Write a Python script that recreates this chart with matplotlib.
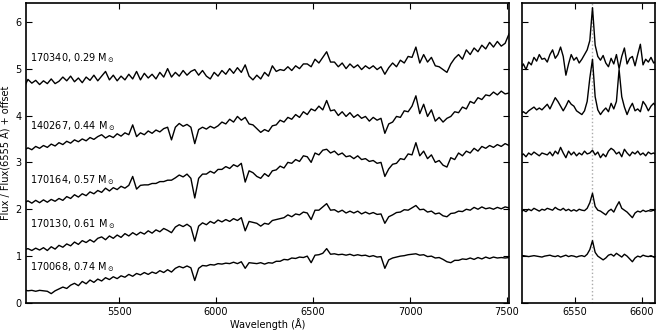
import numpy as np
import matplotlib
matplotlib.use("Agg")
import matplotlib.pyplot as plt

# ---------------- data ----------------
# Left panel: wavelength grid 5010..7510 step 20 A (126 points)
wave_full = np.arange(5010, 7511, 20)

flux_170340 = [
    4.60, 4.77, 4.69, 4.75, 4.66, 4.74, 4.68, 4.78, 4.68, 4.73,
    4.82, 4.74, 4.84, 4.72, 4.80, 4.70, 4.82, 4.75, 4.86, 4.74,
    4.84, 4.94, 4.76, 4.86, 4.74, 4.84, 4.76, 4.88, 4.78, 4.94,
    4.76, 4.90, 4.80, 4.88, 4.78, 4.92, 4.82, 5.00, 4.82, 4.92,
    4.84, 4.96, 4.86, 4.94, 4.98, 4.86, 4.96, 4.84, 4.78, 4.92,
    4.84, 4.96, 4.88, 5.00, 4.90, 5.02, 4.92, 5.08, 4.84, 4.76,
    4.86, 4.78, 4.92, 4.84, 5.06, 4.94, 4.98, 4.96, 5.04, 4.96,
    5.06, 5.00, 5.10, 5.10, 5.04, 5.20, 5.12, 5.24, 5.36, 5.14,
    5.14, 5.04, 5.12, 5.00, 5.10, 5.02, 5.08, 4.98, 5.06, 5.00,
    5.06, 4.98, 5.04, 4.88, 5.02, 5.12, 5.04, 5.18, 5.12, 5.26,
    5.24, 5.46, 5.12, 5.30, 5.14, 5.24, 5.06, 5.04, 4.98, 4.92,
    5.10, 5.22, 5.30, 5.20, 5.40, 5.30, 5.44, 5.36, 5.50, 5.42,
    5.56, 5.46, 5.58, 5.48, 5.54, 5.74,
]
flux_140267 = [
    3.26, 3.31, 3.27, 3.34, 3.30, 3.36, 3.32, 3.39, 3.35, 3.42,
    3.38, 3.45, 3.41, 3.48, 3.44, 3.50, 3.46, 3.53, 3.49, 3.55,
    3.59, 3.52, 3.57, 3.53, 3.61, 3.56, 3.63, 3.59, 3.80, 3.55,
    3.63, 3.59, 3.67, 3.62, 3.69, 3.65, 3.72, 3.75, 3.48, 3.75,
    3.83, 3.77, 3.81, 3.75, 3.40, 3.70, 3.75, 3.71, 3.77, 3.73,
    3.78, 3.86, 3.82, 3.92, 3.86, 3.98, 3.90, 3.96, 3.82, 3.80,
    3.72, 3.64, 3.70, 3.66, 3.78, 3.80, 3.90, 3.86, 3.96, 3.92,
    4.02, 3.96, 4.08, 4.02, 4.14, 4.10, 4.20, 4.12, 4.32, 4.10,
    4.12, 4.00, 4.08, 3.98, 4.06, 3.96, 4.02, 3.94, 3.98, 3.88,
    3.96, 3.90, 3.94, 3.62, 3.82, 3.86, 3.98, 3.96, 4.10, 4.08,
    4.20, 4.42, 4.04, 4.24, 3.98, 4.12, 3.88, 3.96, 3.86, 3.94,
    3.98, 4.08, 4.06, 4.18, 4.14, 4.30, 4.26, 4.38, 4.34, 4.44,
    4.42, 4.50, 4.44, 4.52, 4.46, 4.48,
]
flux_170164 = [
    2.13, 2.18, 2.13, 2.19, 2.14, 2.20, 2.15, 2.21, 2.17, 2.23,
    2.19, 2.27, 2.23, 2.31, 2.26, 2.33, 2.29, 2.37, 2.33, 2.40,
    2.36, 2.45, 2.39, 2.46, 2.42, 2.49, 2.45, 2.51, 2.70, 2.43,
    2.51, 2.52, 2.52, 2.55, 2.55, 2.59, 2.59, 2.62, 2.62, 2.67,
    2.73, 2.69, 2.75, 2.66, 2.24, 2.66, 2.75, 2.75, 2.81, 2.77,
    2.85, 2.85, 2.91, 2.87, 2.95, 2.91, 2.98, 2.58, 2.82, 2.78,
    2.70, 2.66, 2.76, 2.70, 2.82, 2.84, 2.92, 2.88, 3.00, 2.98,
    3.06, 3.02, 3.14, 3.12, 3.00, 3.20, 3.16, 3.26, 3.28, 3.20,
    3.24, 3.16, 3.20, 3.12, 3.14, 3.08, 3.14, 3.06, 3.08, 3.02,
    3.04, 2.98, 3.00, 2.70, 2.86, 2.96, 2.98, 3.08, 3.06, 3.18,
    3.16, 3.42, 3.14, 3.24, 3.08, 3.16, 3.00, 3.04, 2.94, 2.90,
    3.10, 3.06, 3.20, 3.14, 3.24, 3.20, 3.30, 3.24, 3.34, 3.30,
    3.36, 3.32, 3.38, 3.34, 3.40, 3.36,
]
flux_170130 = [
    1.13, 1.16, 1.12, 1.17, 1.13, 1.18, 1.12, 1.20, 1.15, 1.23,
    1.19, 1.26, 1.22, 1.30, 1.25, 1.33, 1.29, 1.35, 1.30, 1.38,
    1.41, 1.35, 1.43, 1.38, 1.45, 1.40, 1.48, 1.43, 1.50, 1.45,
    1.51, 1.47, 1.54, 1.49, 1.56, 1.52, 1.59, 1.55, 1.50, 1.62,
    1.67, 1.63, 1.68, 1.62, 1.32, 1.64, 1.71, 1.67, 1.74, 1.70,
    1.77, 1.73, 1.78, 1.74, 1.80, 1.76, 1.82, 1.54, 1.74, 1.72,
    1.70, 1.64, 1.70, 1.68, 1.76, 1.78, 1.80, 1.82, 1.88, 1.84,
    1.90, 1.88, 1.94, 1.92, 1.78, 1.98, 1.98, 2.05, 2.12, 1.98,
    1.99, 1.94, 1.98, 1.92, 1.96, 1.92, 1.96, 1.90, 1.94, 1.90,
    1.93, 1.89, 1.90, 1.70, 1.84, 1.88, 1.93, 1.94, 1.99, 1.98,
    2.03, 2.08, 1.99, 2.00, 1.94, 1.96, 1.90, 1.92, 1.86, 1.84,
    1.91, 1.92, 1.96, 1.95, 2.00, 1.98, 2.04, 2.00, 2.05, 2.01,
    2.03, 2.00, 2.04, 2.01, 2.05, 2.03,
]
flux_170068 = [
    0.28, 0.26, 0.27, 0.25, 0.27, 0.26, 0.25, 0.20, 0.26, 0.30,
    0.34, 0.31, 0.38, 0.42, 0.37, 0.46, 0.41, 0.49, 0.44, 0.51,
    0.47, 0.54, 0.50, 0.56, 0.52, 0.58, 0.55, 0.61, 0.57, 0.63,
    0.60, 0.65, 0.61, 0.66, 0.63, 0.69, 0.65, 0.71, 0.66, 0.74,
    0.78, 0.75, 0.79, 0.75, 0.48, 0.74, 0.80, 0.79, 0.82, 0.81,
    0.84, 0.83, 0.85, 0.84, 0.87, 0.84, 0.88, 0.74, 0.86, 0.85,
    0.84, 0.86, 0.83, 0.86, 0.85, 0.89, 0.89, 0.93, 0.92, 0.96,
    0.95, 0.98, 0.97, 1.00, 0.86, 1.02, 1.03, 1.06, 1.16, 1.04,
    1.05, 1.03, 1.04, 1.02, 1.04, 1.01, 1.03, 1.01, 1.02, 0.99,
    1.01, 0.98, 0.99, 0.74, 0.92, 0.96, 0.98, 1.00, 1.01, 1.03,
    1.04, 1.05, 1.02, 1.03, 0.99, 1.00, 0.96, 0.97, 0.93, 0.88,
    0.86, 0.91, 0.91, 0.94, 0.93, 0.96, 0.93, 0.97, 0.94, 0.98,
    0.95, 0.98, 0.96, 0.97, 0.96, 0.97,
]

# Right panel (H-alpha region): grid 6509..6611 step 2 A (52 points)
wave_zoom = np.arange(6509, 6612, 2)

zoom_170340 = [
    5.00, 5.10, 4.98, 5.14, 5.08, 5.24, 5.16, 5.30, 5.20, 5.22,
    5.14, 5.30, 5.40, 5.22, 5.30, 5.46, 5.26, 4.86, 5.10, 5.30,
    5.18, 5.24, 5.12, 5.20, 5.30, 5.40, 5.60, 6.30, 5.50, 5.26,
    5.18, 5.28, 5.12, 5.04, 5.22, 5.10, 5.30, 5.00, 5.26, 5.44,
    5.10, 5.22, 5.26, 5.06, 5.30, 5.52, 5.08, 5.20, 5.14, 5.24,
    5.12, 5.16,
]
zoom_140267 = [
    4.04, 4.08, 4.04, 4.10, 4.14, 4.18, 4.12, 4.16, 4.12, 4.18,
    4.24, 4.14, 4.26, 4.38, 4.30, 4.20, 4.10, 4.20, 4.32, 4.24,
    4.20, 4.10, 4.06, 4.02, 4.10, 4.30, 4.80, 5.20, 4.40, 4.12,
    4.02, 4.10, 4.16, 4.08, 4.26, 4.14, 4.30, 4.98, 4.40, 4.18,
    4.02, 4.16, 4.26, 4.10, 4.14, 4.08, 4.30, 4.22, 4.10, 4.20,
    4.26, 4.18,
]
zoom_170164 = [
    3.14, 3.18, 3.12, 3.20, 3.16, 3.22, 3.18, 3.14, 3.20, 3.18,
    3.16, 3.22, 3.14, 3.24, 3.18, 3.32, 3.20, 3.10, 3.24, 3.16,
    3.22, 3.14, 3.20, 3.16, 3.24, 3.18, 3.20, 3.26, 3.16, 3.22,
    3.10, 3.18, 3.12, 3.24, 3.30, 3.26, 3.18, 3.22, 3.12, 3.28,
    3.20, 3.14, 3.22, 3.18, 3.24, 3.16, 3.20, 3.14, 3.22, 3.18,
    3.20, 3.16,
]
zoom_170130 = [
    1.94, 1.98, 1.95, 2.00, 1.97, 2.02, 1.99, 1.96, 2.00, 1.98,
    2.02, 2.00, 1.98, 2.04, 2.00, 1.98, 2.02, 1.97, 2.00, 1.96,
    1.99, 1.96, 2.00, 1.98, 1.97, 2.02, 2.14, 2.34, 2.06, 1.98,
    1.96, 1.92, 1.88, 1.96, 2.00, 1.94, 2.06, 2.16, 2.02, 1.98,
    1.94, 1.88, 1.82, 1.92, 1.96, 1.94, 1.98, 1.95, 1.97, 1.96,
    1.98, 1.95,
]
zoom_170068 = [
    1.00, 1.01, 1.00, 0.99, 1.00, 1.01, 1.00, 0.99, 0.98, 1.00,
    1.01, 1.02, 1.00, 0.99, 1.01, 0.98, 1.00, 1.02, 0.99, 1.01,
    1.00, 0.98, 1.00, 1.01, 0.99, 1.04, 1.14, 1.33, 1.08, 1.00,
    0.96, 0.92, 0.96, 1.02, 1.04, 1.00, 1.06, 1.02, 0.98, 1.04,
    1.00, 0.94, 0.88, 0.96, 1.00, 0.98, 1.02, 1.00, 0.99, 1.01,
    0.98, 0.96,
]

labels = ["170340, 0.29 M$_\\odot$", "140267, 0.44 M$_\\odot$",
          "170164, 0.57 M$_\\odot$", "170130, 0.61 M$_\\odot$",
          "170068, 0.74 M$_\\odot$"]
label_y = [5.23, 3.77, 2.62, 1.68, 0.77]

full_spectra = [flux_170340, flux_140267, flux_170164, flux_170130, flux_170068]
zoom_spectra = [zoom_170340, zoom_140267, zoom_170164, zoom_170130, zoom_170068]
halpha = 6563

# ---------------- plot ----------------
plt.rcParams["font.family"] = "DejaVu Sans"
plt.rcParams["font.size"] = 7
plt.rcParams["mathtext.fontset"] = "dejavusans"

fig = plt.figure(figsize=(6.62, 3.30), dpi=100)
ax1 = fig.add_axes([26/662, 27/330, 483/662, 300/330])
ax2 = fig.add_axes([522/662, 27/330, 133/662, 300/330])

for f in full_spectra:
    ax1.plot(wave_full, f, color="black", lw=1.0)
for lab, ly in zip(labels, label_y):
    ax1.text(5041, ly, lab, fontsize=7, va="center", ha="left")

ax2.axvline(halpha, color="#aaaaaa", ls=":", lw=1.0, zorder=0)
for f in zoom_spectra:
    ax2.plot(wave_zoom, f, color="black", lw=1.0)

ax1.set_xlim(5020, 7510)
ax1.set_ylim(0, 6.4)
ax1.set_xticks([5500, 6000, 6500, 7000, 7500])
ax1.set_yticks([0, 1, 2, 3, 4, 5, 6])
ax1.set_xlabel("Wavelength (Å)", fontsize=7, labelpad=1)
ax1.set_ylabel("Flux / Flux(6555 Å) + offset", fontsize=7, labelpad=3)

ax2.set_xlim(6510, 6610)
ax2.set_ylim(0, 6.4)
ax2.set_xticks([6550, 6600])
ax2.set_yticks([0, 1, 2, 3, 4, 5, 6])
ax2.set_yticklabels([])

for ax in (ax1, ax2):
    ax.tick_params(direction="in", top=True, right=True, length=4, width=0.8,
                   labelsize=7, pad=3)
    for s in ax.spines.values():
        s.set_linewidth(1.2)

fig.savefig("out.png", dpi=100)
